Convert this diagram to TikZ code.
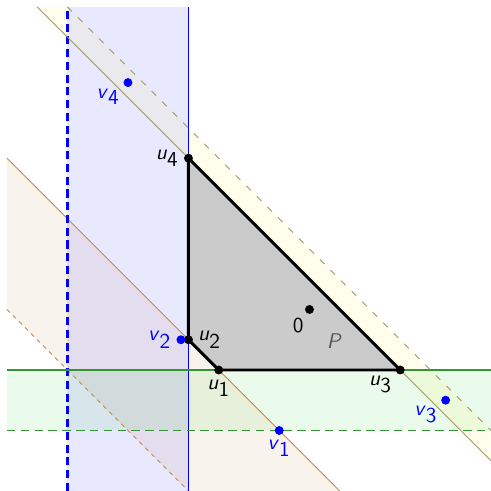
\documentclass[tikz,border=0pt]{standalone}
\usepackage{tikz}
\usetikzlibrary{positioning}
\definecolor{stripblue}{RGB}{0,0,255}
\definecolor{stripgreen}{RGB}{50,150,50}
\definecolor{stripbrown}{RGB}{200,136,74}
\definecolor{stripolive}{RGB}{160,150,100}
\definecolor{polygray}{RGB}{203,203,203}
\newcommand{\sfvar}[2]{\textsf{\textit{#1}}\ensuremath{_{\textsf{#2}}}}

\begin{document}
\begin{tikzpicture}[
            x=0.5cm, y=0.5cm,
            font=\sffamily,
            strip/.style={draw=none, fill opacity=0.1},
            edge/.style={line width=0.45pt},
            poly/.style={fill=polygray, draw=black, line width=1.4pt, line join=round},
            dot/.style={circle, fill=black, inner sep=0pt, minimum size=4.2pt},
            vdot/.style={dot, fill=stripblue},
            vlab/.style={text=stripblue, inner sep=1pt},
            ulab/.style={inner sep=1pt}
            ]
            \useasboundingbox (-10.23,-6) rectangle (6,10.23);

            % strips
            \fill[strip, fill=stripbrown] (-10,5) -- (1,-6) -- (-4,-6) -- (-10,0) -- cycle;
            \fill[strip, fill=stripblue, fill opacity=0.09] (-8,-6) rectangle (-4,10);
            \fill[strip, fill=green!80!black, fill opacity=0.08] (-10,-4) rectangle (6,-2);
            \fill[strip, fill=yellow, fill opacity=0.07] (-9,10) -- (-8,10) -- (6,-4) -- (6,-5) -- cycle;

            % boundary lines
            \draw[edge, stripbrown] (-10,5) -- (1,-6);
            \draw[edge, stripbrown, dash pattern=on 2pt off 2pt] (-10,0) -- (-4,-6);
            \draw[edge, stripblue, line width=0.5pt] (-4,-6) -- (-4,10);
            \draw[edge, stripblue, line width=1.05pt, dash pattern=on 3.8pt off 2.2pt] (-8,-6) -- (-8,10);
            \draw[edge, stripgreen, line width=0.55pt] (-10,-2) -- (6,-2);
            \draw[edge, stripgreen, line width=0.6pt, dash pattern=on 4pt off 2.5pt] (-10,-4) -- (6,-4);
            \draw[edge, stripolive] (-9,10) -- (6,-5);
            \draw[edge, stripolive, dash pattern=on 3pt off 4pt] (-8,10) -- (6,-4);

            % the polytope
            \coordinate (u1) at (-3,-2);
            \coordinate (u2) at (-4,-1);
            \coordinate (u3) at (3,-2);
            \coordinate (u4) at (-4,5);
            \draw[poly] (u1) -- (u3) -- (u4) -- (u2) -- cycle;
            \node[text=black!65, font=\sffamily\itshape] (plab) at (0.8,-1.05) {P};

            \node[dot] (o) at (0,0) {};
            \node[ulab, below left=1pt and 0pt of o] (olab) {0};

            \node[dot] (du1) at (u1) {};
            \node[dot] (du2) at (u2) {};
            \node[dot] (du3) at (u3) {};
            \node[dot] (du4) at (u4) {};
            \node[ulab, below=1pt of du1] (lu1) {\sfvar{u}{1}};
            \node[ulab, right=1pt of du2] (lu2) {\sfvar{u}{2}};
            \node[ulab, below left=0pt and 1pt of du3] (lu3) {\sfvar{u}{3}};
            \node[ulab, left=1pt of du4] (lu4) {\sfvar{u}{4}};

            % the points v
            \node[vdot] (v1) at (-1,-4) {};
            \node[vdot] (v2) at (-4.25,-1) {};
            \node[vdot] (v3) at (4.5,-3) {};
            \node[vdot] (v4) at (-6,7.5) {};
            \node[vlab, below=1pt of v1] (lv1) {\sfvar{v}{1}};
            \node[vlab, left=1pt of v2] (lv2) {\sfvar{v}{2}};
            \node[vlab, below left=0pt and 1pt of v3] (lv3) {\sfvar{v}{3}};
            \node[vlab, below left=0pt and 1pt of v4] (lv4) {\sfvar{v}{4}};
        \end{tikzpicture}
\end{document}
